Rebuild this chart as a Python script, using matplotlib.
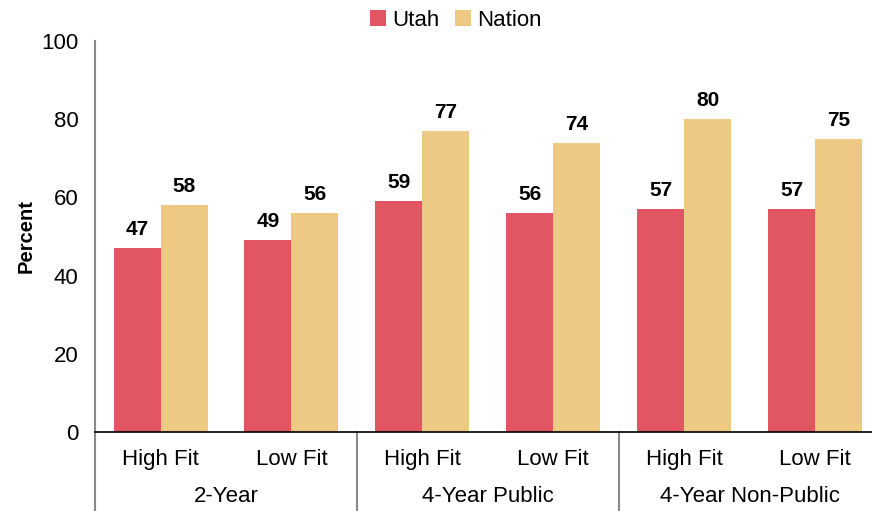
import matplotlib.pyplot as plt
import numpy as np

plt.rcParams['font.family'] = ['Liberation Sans', 'DejaVu Sans']

groups = ["2-Year", "4-Year Public", "4-Year Non-Public"]
subcats = ["High Fit", "Low Fit", "High Fit", "Low Fit", "High Fit", "Low Fit"]
utah = [47, 49, 59, 56, 57, 57]
nation = [58, 56, 77, 74, 80, 75]

fig = plt.figure(figsize=(8.72, 5.11), dpi=100)
# axes runs a bit past the right edge of the figure like the original
ax = fig.add_axes([0.109, 0.1546, 0.901, 0.7652])

x = np.arange(len(subcats))
w = 0.359
b1 = ax.bar(x - w / 2, utah, w, color="#E25664", label="Utah")
b2 = ax.bar(x + w / 2, nation, w, color="#EEC984", label="Nation")

for bars in (b1, b2):
    for r in bars:
        ax.text(r.get_x() + r.get_width() / 2, r.get_height() + 2.3, "%d" % r.get_height(),
                ha="center", va="bottom", fontsize=15, fontweight="bold")

ax.set_xlim(-0.5, len(subcats) - 0.5)
ax.set_ylim(0, 100)
ax.set_yticks(range(0, 101, 20))
ax.tick_params(axis="y", length=0, labelsize=16, pad=12)
ax.set_xticks(x)
ax.set_xticklabels(subcats)
ax.tick_params(axis="x", length=0, labelsize=16, pad=12)
ax.set_ylabel("Percent", fontsize=14.5, fontweight="bold", labelpad=4)

for s in ["top", "right"]:
    ax.spines[s].set_visible(False)
ax.spines["left"].set_color("#8a8a8a")
ax.spines["left"].set_linewidth(1.5)
ax.spines["bottom"].set_color("black")
ax.spines["bottom"].set_linewidth(1.2)

# group separators below axis
trans = ax.get_xaxis_transform()
for xs in [-0.5, 1.5, 3.5, 5.5]:
    ax.plot([xs, xs], [0, -0.205], color="#8a8a8a", lw=1.5, transform=trans, clip_on=False)
for i, g in enumerate(groups):
    ax.text(2 * i + 0.5, -0.165, g, transform=trans, ha="center", va="center", fontsize=16)

fig.legend(handles=[b1, b2], loc="center", bbox_to_anchor=(0.523, 0.96), ncol=2, frameon=False,
           fontsize=16, handlelength=0.7, handleheight=0.7, handletextpad=0.3,
           columnspacing=0.7, borderpad=0)

fig.savefig("out.png")
